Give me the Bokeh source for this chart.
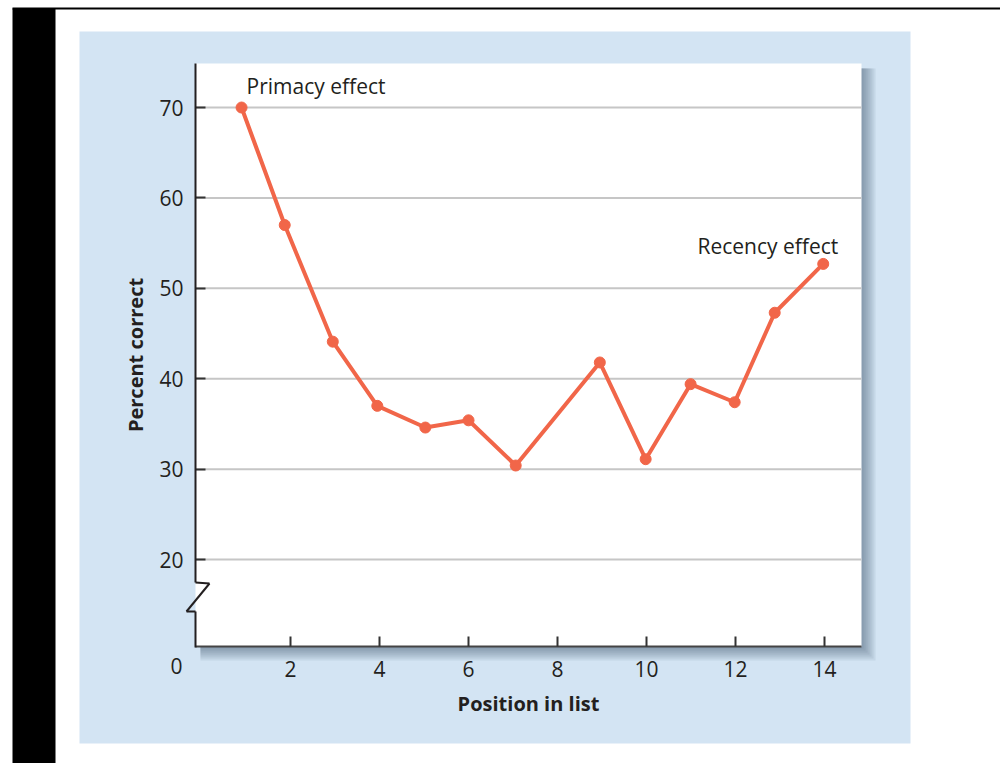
from bokeh.plotting import figure
from bokeh.models import BoxAnnotation, Label, Arrow, FixedTicker, Range1d
from bokeh.embed import file_html
from bokeh.resources import INLINE

# ---- data ----
positions = [0.9, 1.87, 2.95, 3.95, 5.03, 6.0, 7.06, 8.95, 9.98, 10.99, 11.98, 12.88, 13.97]
percent_correct = [70.0, 57.0, 44.1, 37.0, 34.6, 35.4, 30.4, 41.8, 31.1, 39.4, 37.4, 47.3, 52.7]
x_ticks = [2, 4, 6, 8, 10, 12, 14]
y_ticks = [20, 30, 40, 50, 60, 70]
x_title = "Position in list"
y_title = "Percent correct"
primacy_text = "Primacy effect"
recency_text = "Recency effect"
origin_text = "0"

FONT = "Open Sans"
TEXT = "#231f20"
LINE = "#f16649"
BLUE = "#d3e4f3"

W, H = 1000, 763
# plot area (white box) in canvas pixels and the data extent it shows
PX_L, PX_R, PY_T, PY_B = 195, 861, 63, 646
X_L, X_R, Y_B, Y_T = -0.135, 14.83, 10.38, 74.87
sx = (PX_R - PX_L) / (X_R - X_L)
sy = (PY_B - PY_T) / (Y_T - Y_B)
x_range = Range1d(X_L - PX_L / sx, X_L + (W - PX_L) / sx)
y_range = Range1d(Y_T - (H - PY_T) / sy, Y_T + PY_T / sy)

p = figure(width=W, height=H, output_backend="svg", toolbar_location=None,
           x_range=x_range, y_range=y_range, min_border=0,
           min_border_left=0, min_border_right=0, min_border_top=0, min_border_bottom=0)
p.border_fill_color = "white"
p.background_fill_color = "white"
p.outline_line_color = None


def box(l, r, t, b, color, alpha=1.0):
    p.add_layout(BoxAnnotation(left=l, right=r, top=t, bottom=b,
                               left_units="canvas", right_units="canvas",
                               top_units="canvas", bottom_units="canvas",
                               fill_color=color, fill_alpha=alpha, line_color=None,
                               level="image"))


# page decorations
box(79, 910, 31, 743, BLUE)
box(12, 55, 8, H, "black")
box(12, W, 7, 9, "black")
# drop shadow of the plot area
for k in range(2, 16, 2):
    box(PX_L + 5, PX_R + k, PY_T + 5, PY_B + k, "#3b5064", 0.085)
# white plot area
box(PX_L, PX_R, PY_T, PY_B, "white")

# grid lines (only across the plot area)
p.xgrid.visible = False
p.ygrid.visible = False
p.segment(x0=[X_L] * len(y_ticks), x1=[X_R] * len(y_ticks), y0=y_ticks, y1=y_ticks,
          line_color="#c6c6c6", line_width=2)

# axes, fixed to the edges of the plot area
p.xaxis.fixed_location = Y_B
p.yaxis.fixed_location = X_L
p.xaxis.bounds = (X_L, X_R)
p.yaxis.bounds = (Y_B, Y_T)
p.xaxis.ticker = FixedTicker(ticks=x_ticks)
p.yaxis.ticker = FixedTicker(ticks=y_ticks)
for ax in (p.xaxis[0], p.yaxis[0]):
    ax.major_tick_in = 10
    ax.major_tick_out = 0
    ax.minor_tick_line_color = None
    ax.major_tick_line_width = 2
    ax.major_tick_line_color = "#333333"
    ax.major_label_text_font = FONT
    ax.major_label_text_font_size = "21px"
    ax.major_label_text_color = TEXT
    ax.axis_label_text_font = FONT
    ax.axis_label_text_font_size = "20px"
    ax.axis_label_text_font_style = "bold"
    ax.axis_label_text_color = TEXT
p.xaxis.axis_label = x_title
p.yaxis.axis_label = y_title
p.xaxis.axis_line_color = "#444444"
p.xaxis.axis_line_width = 2
p.xaxis.major_label_standoff = 14
p.xaxis.axis_label_standoff = 10
p.yaxis.axis_line_color = None
p.yaxis.major_label_standoff = 12
p.yaxis.axis_label_standoff = 7

# broken y-axis line with zigzag
seg = [(PX_L, PY_T, PX_L, 582), (PX_L, 582, 209, 583), (209, 583, 186, 611),
       (186, 611, PX_L, 611), (PX_L, 611, PX_L, PY_B + 1)]
for x0, y0, x1, y1 in seg:
    p.add_layout(Arrow(end=None, x_start=x0, y_start=y0, x_end=x1, y_end=y1,
                       start_units="canvas", end_units="canvas",
                       line_color="#231f20", line_width=2))

# origin label
p.add_layout(Label(x=176, y=665, x_units="canvas", y_units="canvas", text=origin_text,
                   text_font=FONT, text_font_size="21px", text_color=TEXT,
                   text_align="center", text_baseline="middle"))

# data
p.line(positions, percent_correct, line_color=LINE, line_width=4)
p.scatter(positions, percent_correct, marker="circle", size=11,
          fill_color=LINE, line_color=LINE)

p.add_layout(Label(x=positions[0], y=percent_correct[0], x_offset=5, y_offset=22,
                   text=primacy_text, text_font=FONT, text_font_size="21px",
                   text_color=TEXT, text_align="left", text_baseline="middle"))
p.add_layout(Label(x=positions[-1], y=percent_correct[-1], x_offset=15, y_offset=18,
                   text=recency_text, text_font=FONT, text_font_size="21px",
                   text_color=TEXT, text_align="right", text_baseline="middle"))

open("out.html", "w").write(file_html(p, INLINE))
